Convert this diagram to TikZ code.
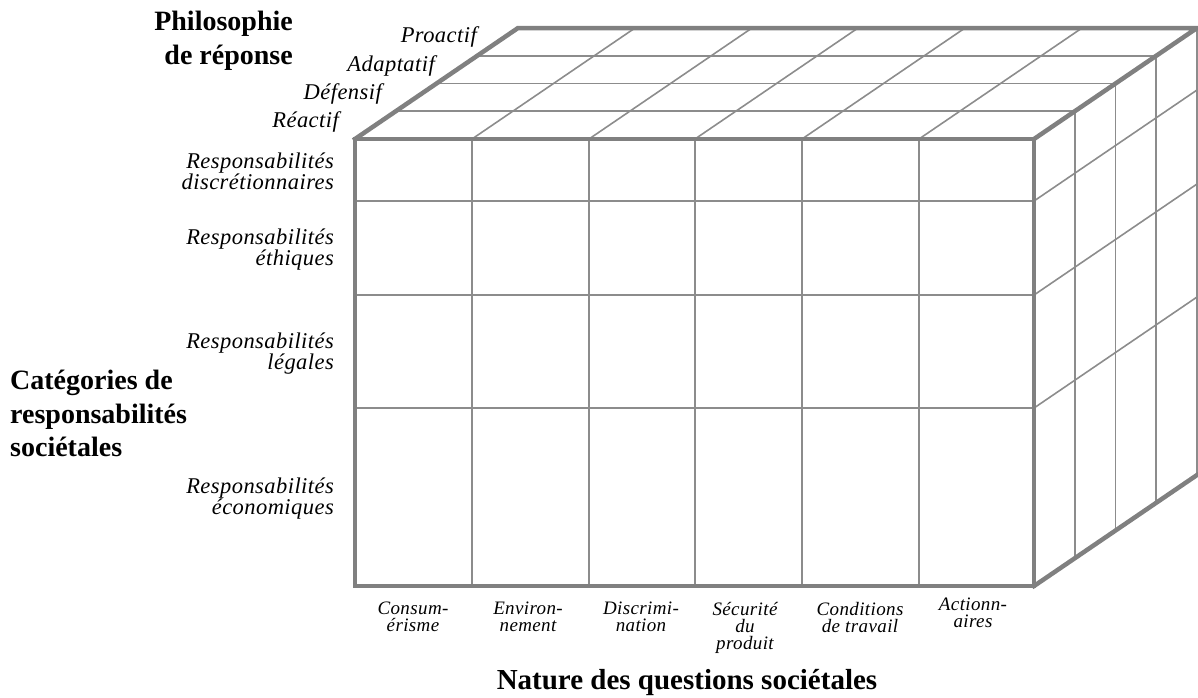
\documentclass[tikz,border=0pt]{standalone}
\usepackage{fontspec}
\setmainfont{Liberation Serif}
\newfontfamily\lblfont[LetterSpace=2]{Liberation Serif}
\definecolor{edge}{RGB}{128,128,128}
\definecolor{grid}{RGB}{140,140,140}
\begin{document}
\begin{tikzpicture}[x=1pt,y=-1pt,
  frame/.style={draw=edge,line width=4.5pt,line join=miter,line cap=rect},
  gridline/.style={draw=grid,line width=1.6pt},
  axis/.style={font=\fontsize{28}{33.5}\selectfont\bfseries,inner sep=0pt},
  cat/.style={font=\lblfont\itshape\fontsize{22.5}{21}\selectfont,inner sep=0pt,align=right},
  issue/.style={font=\lblfont\itshape\fontsize{19}{17}\selectfont,inner sep=0pt,align=center},
]
\useasboundingbox (0,0) rectangle (1198,697);

% depth vector of the cube: (163,-111), split into four layers
% front face grid
\foreach \x in {472,589,695,802,919} {
  \draw[gridline] (\x,139) -- (\x,586);
  \draw[gridline] (\x,139) -- ++(163,-111);
}
\foreach \y in {201,295,408} {
  \draw[gridline] (355,\y) -- (1034,\y);
  \draw[gridline] (1034,\y) -- ++(163,-111);
}
% layers of the top and right faces
\foreach \k in {1,2,3} {
  \draw[gridline] ({355+163*\k/4},{139-111*\k/4}) -- ({1034+163*\k/4},{139-111*\k/4});
  \draw[gridline] ({1034+163*\k/4},{139-111*\k/4}) -- ({1034+163*\k/4},{586-111*\k/4});
}
\draw[gridline] (1197,28) -- (1197,475);

% outline of the cube
\draw[frame] (355,139) rectangle (1034,586);
\draw[frame] (355,139) -- (518,28) -- (1197,28) -- (1034,139);
\draw[frame] (1034,586) -- (1197,475);

% response philosophy
\node[axis,align=right,anchor=north east] (philo) at (293,11) {Philosophie\\de réponse};
\node[cat,anchor=base east] (proactif) at (477,42) {Proactif};
\node[cat,anchor=base east] (adaptatif) at (435,71) {Adaptatif};
\node[cat,anchor=base east] (defensif) at (382,99) {Défensif};
\node[cat,anchor=base east] (reactif) at (339,127) {Réactif};

% categories of social responsibilities
\node[axis,align=left,anchor=north west] (categories) at (10,370) {Catégories de\\responsabilités\\sociétales};
\node[cat,anchor=north east] (discr) at (334,152.5) {Responsabilités\\discrétionnaires};
\node[cat,anchor=north east] (ethic) at (334,228.5) {Responsabilités\\éthiques};
\node[cat,anchor=north east] (legal) at (334,332.5) {Responsabilités\\légales};
\node[cat,anchor=north east] (econ) at (334,477.5) {Responsabilités\\économiques};

% social issues
\node[issue,anchor=north] (consum) at (413,602) {Consum-\\érisme};
\node[issue,anchor=north] (envir) at (528,602) {Environ-\\nement};
\node[issue,anchor=north] (discrim) at (641,602) {Discrimi-\\nation};
\node[issue,anchor=north] (secu) at (745,602) {Sécurité\\du\\produit};
\node[issue,anchor=north] (travail) at (860,602) {Conditions\\de travail};
\node[issue,anchor=north] (action) at (973,598) {Actionn-\\aires};
\node[axis,font=\fontsize{29}{33.5}\selectfont\bfseries,anchor=base] (nature) at (687,689) {Nature des questions sociétales};
\end{tikzpicture}
\end{document}
